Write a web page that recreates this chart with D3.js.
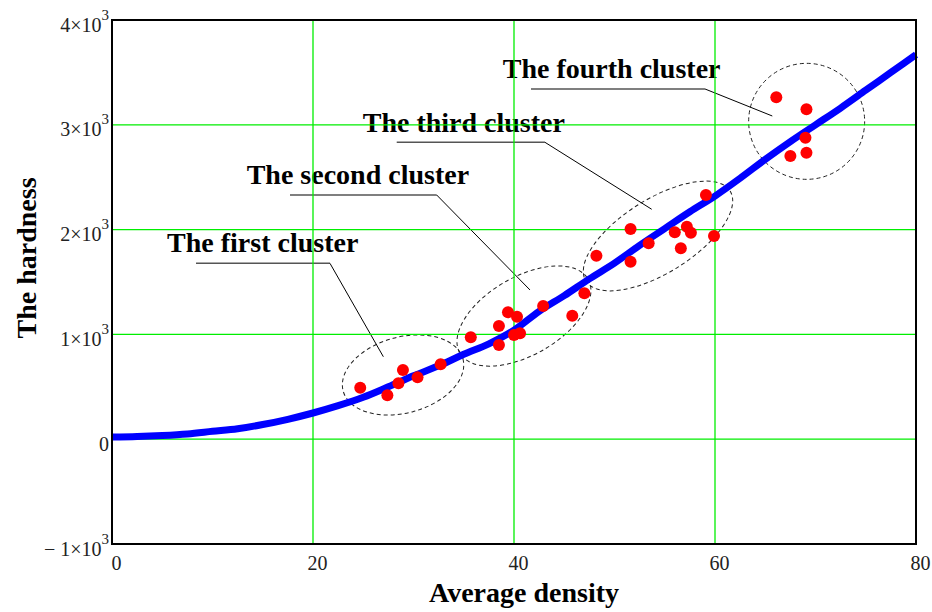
<!DOCTYPE html>
<html>
<head>
<meta charset="utf-8">
<script src="https://cdn.jsdelivr.net/npm/d3@7"></script>
<style>
  body { margin: 0; background: #fff; }
  svg { display: block; }
</style>
</head>
<body>
<svg id="canvas" width="932" height="612"></svg>
<script>
// fitted curve (density, hardness)
let curveX = [0, 2.5, 5, 7.5, 10, 12.5, 15, 17.5, 20, 22.5, 25, 27.5, 30, 32.5, 35, 37.5, 40,
              42.5, 45, 47.5, 50, 52.5, 55, 57.5, 60, 62.5, 65, 67.5, 70, 72.5, 75, 77.5, 80]
let curveY = [20, 25, 35, 50, 75, 100, 140, 190, 250, 320, 400, 500, 605, 700, 810, 910, 1040,
              1220, 1370, 1530, 1680, 1850, 2010, 2170, 2320, 2490, 2670, 2840, 3000, 3160, 3330, 3500, 3670]

// measured points
let pointX = [24.7, 27.4, 28.5, 28.95, 30.4, 32.7,
              35.7, 38.5, 38.5, 39.4, 40.3, 40.6, 40.0, 42.9, 45.8, 47.0,
              48.2, 51.6, 51.6, 53.4, 56.0, 56.6, 57.2, 57.6, 59.1, 59.9,
              66.1, 69.1, 69.0, 69.1, 67.5]
let pointY = [490, 420, 533, 660, 590, 715,
              972, 899, 1080, 1211, 1169, 1010, 994, 1271, 1178, 1392,
              1751, 1694, 2006, 1869, 1974, 1822, 2028, 1971, 2330, 1939,
              3262, 3148, 2877, 2734, 2702]

let xTicks = [0, 20, 40, 60, 80]
let yTicks = [-1000, 0, 1000, 2000, 3000, 4000]
let xGrid = [20, 40, 60]
let yGrid = [0, 1000, 2000, 3000]

// cluster annotations, in data units
let clusterNames = ["The first cluster", "The second cluster", "The third cluster", "The fourth cluster"]
let clusterCenterX = [28.96, 40.99, 54.33, 69.12]
let clusterCenterY = [613, 1175, 1939, 3033]
let labelX = [5.48, 13.40, 24.95, 38.88]
let labelY = [1786, 2435, 2934, 3444]
let underlineY = [1678, 2330, 2833, 3342]
let underlineX1 = [8.36, 17.71, 28.33, 41.69]
let underlineX2 = [21.69, 32.31, 43.08, 59.0]
let leaderEndX = [27.0, 41.59, 53.70, 65.70]
let leaderEndY = [787, 1424, 2194, 3084]

// ellipse shapes on screen (px, degrees)
let ellipseRx = [62, 74, 85, 58]
let ellipseRy = [38, 39, 37, 58]
let ellipseRot = [-15, -30, -32, 0]

let plotLeft = 112, plotRight = 916, plotTop = 20, plotBottom = 544

let canvas = d3.select("#canvas")

let xScale = d3.scaleLinear().domain([0, 80]).range([plotLeft, plotRight])
let yScale = d3.scaleLinear().domain([-1000, 4000]).range([plotBottom, plotTop])

let serif = "'Liberation Serif', 'Times New Roman', serif"

let drawAnnotations = () => {
    let g = canvas.append("g")
    clusterNames.forEach((name, i) => {
        let cx = xScale(clusterCenterX[i])
        let cy = yScale(clusterCenterY[i])
        g.append("ellipse")
            .attr("cx", cx)
            .attr("cy", cy)
            .attr("rx", ellipseRx[i])
            .attr("ry", ellipseRy[i])
            .attr("transform", `rotate(${ellipseRot[i]} ${cx} ${cy})`)
            .attr("fill", "none")
            .attr("stroke", "#222")
            .attr("stroke-width", 1)
            .attr("stroke-dasharray", "4,3")

        g.append("line")
            .attr("x1", xScale(underlineX1[i]))
            .attr("x2", xScale(underlineX2[i]))
            .attr("y1", yScale(underlineY[i]))
            .attr("y2", yScale(underlineY[i]))
            .attr("stroke", "#555")
            .attr("stroke-width", 1.5)

        g.append("line")
            .attr("x1", xScale(underlineX2[i]))
            .attr("y1", yScale(underlineY[i]))
            .attr("x2", xScale(leaderEndX[i]))
            .attr("y2", yScale(leaderEndY[i]))
            .attr("stroke", "#000")
            .attr("stroke-width", 1)

        g.append("text")
            .attr("x", xScale(labelX[i]))
            .attr("y", yScale(labelY[i]))
            .attr("font-family", serif)
            .attr("font-weight", "bold")
            .attr("font-size", 28)
            .attr("fill", "#000")
            .text(name)
    })
}

let drawGrid = () => {
    canvas.append("g").selectAll("line")
        .data(xGrid)
        .enter()
        .append("line")
        .attr("x1", d => xScale(d))
        .attr("x2", d => xScale(d))
        .attr("y1", plotTop)
        .attr("y2", plotBottom)
        .attr("stroke", "#00ee00")
        .attr("stroke-width", 1.3)

    canvas.append("g").selectAll("line")
        .data(yGrid)
        .enter()
        .append("line")
        .attr("x1", plotLeft)
        .attr("x2", plotRight)
        .attr("y1", d => yScale(d))
        .attr("y2", d => yScale(d))
        .attr("stroke", "#00ee00")
        .attr("stroke-width", 1.3)
}

let drawData = () => {
    let line = d3.line()
        .x(d => xScale(d[0]))
        .y(d => yScale(d[1]))
        .curve(d3.curveMonotoneX)

    canvas.append("path")
        .datum(d3.zip(curveX, curveY))
        .attr("d", line)
        .attr("fill", "none")
        .attr("stroke", "#0000ff")
        .attr("stroke-width", 7)
        .attr("stroke-linejoin", "round")

    canvas.append("g").selectAll("circle")
        .data(d3.zip(pointX, pointY))
        .enter()
        .append("circle")
        .attr("cx", d => xScale(d[0]))
        .attr("cy", d => yScale(d[1]))
        .attr("r", 6)
        .attr("fill", "#ff0000")
}

let drawAxes = () => {
    canvas.append("rect")
        .attr("x", plotLeft)
        .attr("y", plotTop)
        .attr("width", plotRight - plotLeft)
        .attr("height", plotBottom - plotTop)
        .attr("fill", "none")
        .attr("stroke", "#000")
        .attr("stroke-width", 2)

    let xAxis = d3.axisBottom(xScale).tickValues(xTicks).tickSize(0).tickPadding(0)
    let gx = canvas.append("g")
        .attr("transform", `translate(4, ${plotBottom})`)
        .call(xAxis)
    gx.select(".domain").remove()
    gx.selectAll("text")
        .attr("y", 26)
        .attr("dy", null)
        .attr("font-family", serif)
        .attr("font-size", 20)
        .attr("fill", "#222")

    let yAxis = d3.axisLeft(yScale).tickValues(yTicks).tickSize(0).tickPadding(0).tickFormat("")
    let gy = canvas.append("g")
        .attr("transform", `translate(${plotLeft - 3}, 0)`)
        .call(yAxis)
    gy.select(".domain").remove()
    gy.selectAll(".tick text").remove()
    gy.selectAll(".tick").each(function (d) {
        let t = d3.select(this).append("text")
            .attr("x", 0)
            .attr("y", 11)
            .attr("text-anchor", "end")
            .attr("font-family", serif)
            .attr("font-size", 20)
            .attr("fill", "#222")
        if (d === 0) {
            t.text("0")
        } else {
            let k = d / 1000
            t.append("tspan").text((k < 0 ? "\u2212 " + (-k) : k) + "\u00d710")
            t.append("tspan")
                .attr("dy", -12)
                .attr("font-size", 15)
                .text("3")
        }
    })

    canvas.append("text")
        .attr("x", 524)
        .attr("y", 602)
        .attr("text-anchor", "middle")
        .attr("font-family", serif)
        .attr("font-weight", "bold")
        .attr("font-size", 28)
        .text("Average density")

    canvas.append("text")
        .attr("transform", "translate(36, 258) rotate(-90)")
        .attr("text-anchor", "middle")
        .attr("font-family", serif)
        .attr("font-weight", "bold")
        .attr("font-size", 28)
        .text("The hardness")
}

drawAnnotations()
drawGrid()
drawData()
drawAxes()
</script>
</body>
</html>
